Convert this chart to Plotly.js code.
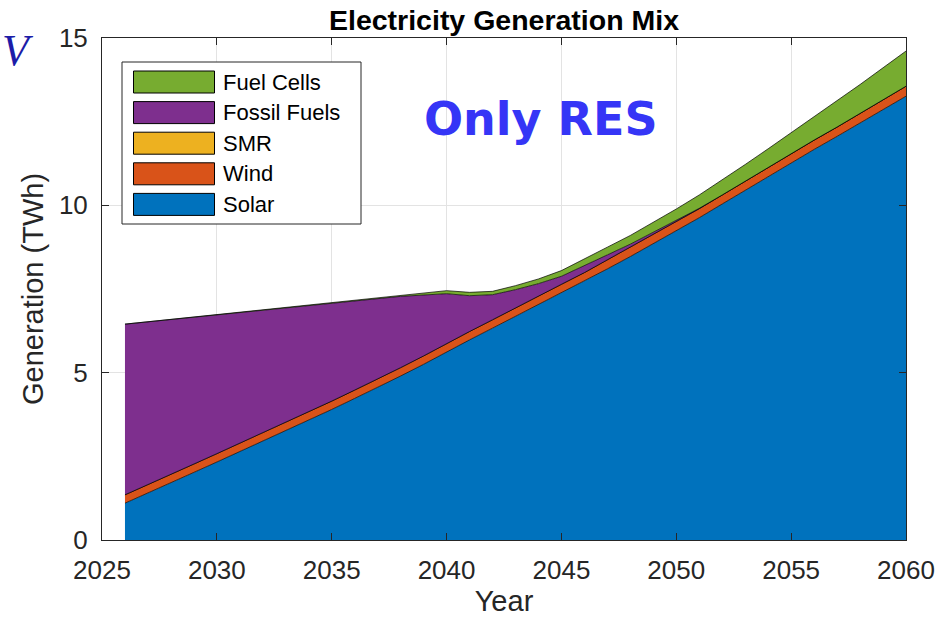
<!DOCTYPE html>
<html>
<head>
<meta charset="utf-8">
<script src="https://cdn.plot.ly/plotly-3.0.1.min.js"></script>
<style>html,body{margin:0;padding:0;background:#fff;}#chart{width:951px;height:617px;}</style>
</head>
<body>
<div id="chart"></div>
<script>
// ---------------- data ----------------
const years = [2026,2027,2028,2029,2030,2031,2032,2033,2034,2035,2036,2037,2038,2039,2040,2041,2042,2043,2044,2045,2046,2047,2048,2049,2050,2051,2052,2053,2054,2055,2056,2057,2058,2059,2060];
const solar = [1.10,1.40,1.71,2.02,2.33,2.64,2.95,3.26,3.58,3.90,4.23,4.56,4.90,5.25,5.62,5.98,6.33,6.68,7.03,7.38,7.73,8.10,8.47,8.85,9.23,9.63,10.04,10.45,10.86,11.27,11.67,12.06,12.46,12.86,13.26];
const wind = [0.25,0.25,0.25,0.25,0.25,0.25,0.25,0.25,0.25,0.25,0.25,0.25,0.25,0.25,0.25,0.25,0.25,0.26,0.26,0.26,0.26,0.27,0.27,0.27,0.27,0.27,0.27,0.27,0.27,0.28,0.28,0.28,0.28,0.29,0.30];
const smr = [0,0,0,0,0,0,0,0,0,0,0,0,0,0,0,0,0,0,0,0,0,0,0,0,0,0,0,0,0,0,0,0,0,0,0];
const fossil = [5.10,4.87,4.63,4.39,4.15,3.91,3.67,3.43,3.18,2.93,2.67,2.41,2.13,1.82,1.49,1.07,0.75,0.54,0.37,0.24,0.20,0.15,0.10,0.07,0.04,0.01,0,0,0,0,0,0,0,0,0];
const fuelCells = [0,0,0,0,0,0,0,0,0,0,0,0,0.02,0.06,0.09,0.10,0.10,0.12,0.14,0.17,0.20,0.23,0.26,0.30,0.35,0.40,0.45,0.50,0.56,0.62,0.70,0.78,0.87,0.96,1.05];
const seriesNames = ["Solar","Wind","SMR","Fossil Fuels","Fuel Cells"];
const xTicks = [2025,2030,2035,2040,2045,2050,2055,2060];
const yTicks = [0,5,10,15];

// ---------------- styling ----------------
const colors = ["#0072BD","#D95319","#EDB120","#7E2F8E","#77AC30"];
const values = [solar, wind, smr, fossil, fuelCells];
const FONT = "Liberation Sans, Arial, Helvetica, sans-serif";
const AX = "#262626";

const traces = values.map((v, i) => ({
  type: "scatter",
  mode: "lines",
  x: years,
  y: v,
  name: seriesNames[i],
  stackgroup: "mix",
  fillcolor: colors[i],
  line: {color: "#000000", width: 0.7},
  showlegend: false,
  hoverinfo: "x+y+name"
}));

// plot-area geometry (pixels) for paper-coordinate helpers
const W = 951, H = 617, L = 102, R = 45, T = 38, B = 77;
const PW = W - L - R, PH = H - T - B;
const px = p => (p - L) / PW;
const py = p => (H - B - p) / PH;

// custom legend (top-of-stack first)
const legendOrder = [4, 3, 2, 1, 0];
const shapes = [{
  type: "rect", xref: "paper", yref: "paper",
  x0: px(122), x1: px(361), y0: py(224), y1: py(62),
  line: {color: AX, width: 1}, fillcolor: "#ffffff", layer: "above"
}];
const annotations = [];
legendOrder.forEach((idx, k) => {
  const top = 71 + k * 30.6, bot = top + 22;
  shapes.push({
    type: "rect", xref: "paper", yref: "paper",
    x0: px(133.5), x1: px(214.5), y0: py(bot), y1: py(top),
    line: {color: "#000000", width: 1}, fillcolor: colors[idx], layer: "above"
  });
  annotations.push({
    xref: "paper", yref: "paper", x: px(221), y: py((top + bot) / 2),
    xanchor: "left", yanchor: "middle", showarrow: false,
    text: seriesNames[idx], font: {family: FONT, size: 22, color: "#000000"}
  });
});
annotations.push({
  xref: "paper", yref: "paper", x: px(541), y: py(119),
  xanchor: "center", yanchor: "middle", showarrow: false,
  text: "<b>Only RES</b>", font: {family: "DejaVu Sans, Verdana, sans-serif", size: 46, color: "#3535f6"}
});
annotations.push({
  xref: "paper", yref: "paper", x: px(0), y: py(24),
  xanchor: "left", yanchor: "top", showarrow: false,
  text: "<i>V</i>", font: {family: "Liberation Serif, Times New Roman, serif", size: 44, color: "#1c1ca8"}
});

const layout = {
  width: W, height: H,
  margin: {l: L, r: R, t: T, b: B, pad: 0},
  paper_bgcolor: "#ffffff", plot_bgcolor: "#ffffff",
  showlegend: false,
  title: {
    text: "<b>Electricity Generation Mix</b>",
    font: {family: FONT, size: 28.5, color: "#000000"},
    x: 0.5, xref: "paper", xanchor: "center",
    y: 1 - 20 / H, yref: "container", yanchor: "middle"
  },
  xaxis: {
    range: [2025, 2060], tickvals: xTicks, ticktext: xTicks.map(String),
    showline: true, mirror: "ticks", linecolor: AX, linewidth: 1,
    ticks: "inside", ticklen: 7, tickcolor: AX, tickwidth: 1,
    showgrid: true, gridcolor: "#e3e3e3", gridwidth: 1, zeroline: false,
    tickfont: {family: FONT, size: 26, color: AX}, ticklabelstandoff: 7,
    title: {text: "Year", font: {family: FONT, size: 29, color: AX}, standoff: 10}
  },
  yaxis: {
    range: [0, 15], tickvals: yTicks, ticktext: yTicks.map(String),
    showline: true, mirror: "ticks", linecolor: AX, linewidth: 1,
    ticks: "inside", ticklen: 7, tickcolor: AX, tickwidth: 1,
    showgrid: true, gridcolor: "#e3e3e3", gridwidth: 1, zeroline: false,
    tickfont: {family: FONT, size: 26, color: AX}, ticklabelstandoff: 8,
    title: {text: "Generation (TWh)", font: {family: FONT, size: 29, color: AX}, standoff: 6}
  },
  shapes: shapes,
  annotations: annotations
};

Plotly.newPlot("chart", traces, layout, {displayModeBar: false, staticPlot: true});
</script>
</body>
</html>
